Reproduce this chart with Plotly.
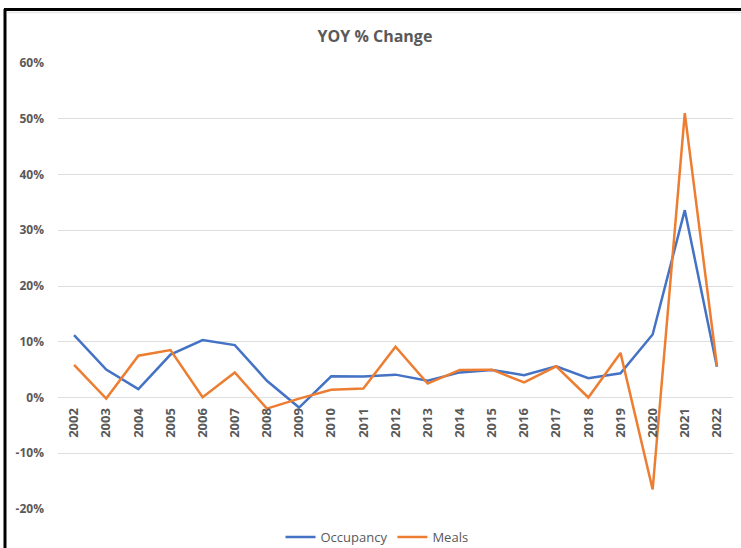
import plotly.graph_objects as go

years = [str(y) for y in range(2002, 2023)]
occupancy = [11.2, 5.0, 1.5, 7.7, 10.3, 9.4, 3.0, -1.8, 3.8, 3.75, 4.1, 3.0, 4.5,
             4.95, 4.0, 5.6, 3.45, 4.35, 11.3, 33.6, 5.5]
meals = [5.85, -0.2, 7.5, 8.5, 0.05, 4.5, -2.0, -0.2, 1.4, 1.6, 9.1, 2.5, 4.95,
         5.0, 2.7, 5.6, 0.0, 8.0, -16.5, 51.0, 5.7]
y_ticks = [-20, -10, 0, 10, 20, 30, 40, 50, 60]
y_tick_text = [f"{v}%" for v in y_ticks]

grey = "#595959"
font_family = "Open Sans, Liberation Sans, sans-serif"

fig = go.Figure()
fig.add_trace(go.Scatter(x=years, y=occupancy, mode="lines", name="Occupancy",
                         line=dict(color="#4472C4", width=2.5)))
fig.add_trace(go.Scatter(x=years, y=meals, mode="lines", name="Meals",
                         line=dict(color="#ED7D31", width=2.5)))

W, H = 741, 548
ml, mr, mt, mb = 58, 8, 63, 39
pw, ph = W - ml - mr, H - mt - mb

def px_x(p):
    return (p - ml) / pw

def px_y(p):
    return (H - mb - p) / ph

fig.update_layout(
    width=W, height=H,
    margin=dict(l=ml, r=mr, t=mt, b=mb, autoexpand=False),
    paper_bgcolor="white", plot_bgcolor="white",
    font=dict(family=font_family, color=grey),
    title=dict(text="<b>YOY % Change</b>", x=0.506, xanchor="center",
               y=1 - 36 / H, yanchor="middle",
               font=dict(size=16, color=grey, family=font_family)),
    showlegend=True,
    legend=dict(orientation="h", xref="container", x=377 / W, xanchor="center",
                yref="container", y=(H - 537) / H, yanchor="middle",
                font=dict(size=13, color=grey), itemwidth=30, tracegroupgap=0),
    xaxis=dict(type="category", range=[-0.5, 20.5], anchor="free", position=0.25,
               tickangle=-90, showgrid=False, showline=False, zeroline=False,
               ticks="", ticklabelstandoff=7, automargin=False,
               tickfont=dict(size=13, color=grey, family=font_family, weight="bold")),
    yaxis=dict(range=[-20, 60], tickvals=y_ticks, ticktext=y_tick_text,
               showgrid=True, gridcolor="#dedede", gridwidth=1, zeroline=False,
               showline=False, ticks="", ticklabelstandoff=13, automargin=False,
               tickfont=dict(size=12, color=grey, family=font_family, weight="bold")),
    shapes=[
        dict(type="line", xref="paper", yref="paper", x0=px_x(5), x1=px_x(5),
             y0=px_y(9), y1=px_y(560), line=dict(color="black", width=3)),
        dict(type="line", xref="paper", yref="paper", x0=px_x(4), x1=px_x(745),
             y0=px_y(9.5), y1=px_y(9.5), line=dict(color="black", width=3)),
        dict(type="line", xref="paper", yref="paper", x0=px_x(7), x1=px_x(745),
             y0=px_y(12.5), y1=px_y(12.5), line=dict(color="#e6e6e6", width=1.5)),
    ],
)

fig.write_html("out.html", config={"displayModeBar": False},
               post_script="document.body.style.margin='0';")
